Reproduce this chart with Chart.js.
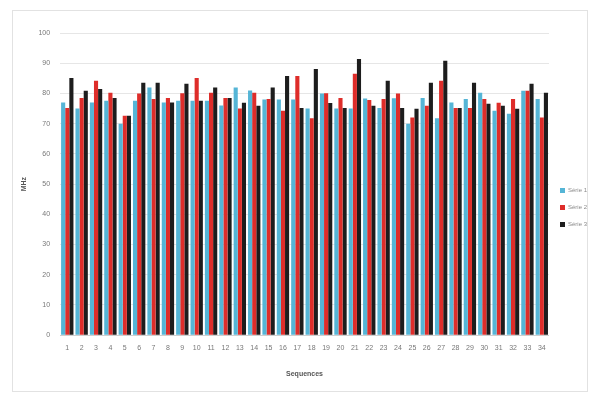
<!DOCTYPE html>
<html>
<head>
<meta charset="utf-8">
<style>
  html, body { margin: 0; padding: 0; background: #fff; }
  #wrap { width: 595px; height: 398px; }
</style>
<script src="https://cdn.jsdelivr.net/npm/chart.js@4"></script>
</head>
<body>
<div id="wrap"><canvas id="myChart" width="595" height="398"></canvas></div>
<script>
    var categories = ['1','2','3','4','5','6','7','8','9','10','11','12','13','14','15','16','17',
        '18','19','20','21','22','23','24','25','26','27','28','29','30','31','32','33','34'];
    var serie1 = [77, 75, 77, 77.6, 70, 77.6, 82, 77, 77.6, 77.6, 77.6, 76, 82, 81, 78, 78, 78,
        75, 80, 75, 75, 78.3, 75.2, 78.4, 70, 78.5, 71.8, 77, 78.2, 80.2, 74.3, 73.3, 80.9, 78.2];
    var serie2 = [75.2, 78.5, 84.2, 80.2, 72.6, 80, 78.2, 78.5, 80.1, 85.1, 80.2, 78.5, 75, 80.2, 78.2, 74.3, 85.8,
        71.8, 80.1, 78.5, 86.5, 77.8, 78.2, 80, 72, 75.9, 84.2, 75.2, 75.2, 78.2, 76.9, 78.2, 80.9, 72];
    var serie3 = [85.1, 80.9, 81.5, 78.5, 72.6, 83.5, 83.5, 77, 83.2, 77.6, 82, 78.5, 76.9, 75.9, 82, 85.8, 75.2,
        88.1, 76.8, 75.2, 91.4, 75.9, 84.2, 75.2, 74.9, 83.5, 90.8, 75.2, 83.5, 76.6, 75.9, 74.9, 83.2, 80.2];
    var seriesNames = ['Série 1', 'Série 2', 'Série 3'];
    var yTicks = [0, 10, 20, 30, 40, 50, 60, 70, 80, 90, 100];

    var ctx = document.getElementById('myChart').getContext('2d');

    const frame = {
        id: 'frame',
        beforeDraw(chart) {
            var c = chart.ctx;
            c.save();
            c.fillStyle = '#ffffff';
            c.fillRect(0, 0, chart.width, chart.height);
            c.strokeStyle = '#e2e2e2';
            c.lineWidth = 1;
            c.strokeRect(12.5, 10.5, 575, 381);
            c.restore();
        }
    };

    const barCommon = {
        borderWidth: 0,
        barPercentage: 1.0,
        categoryPercentage: 0.86
    };

    var barChart = new Chart(ctx, {
        type: 'bar',
        data: {
            labels: categories,
            datasets: [
                Object.assign({ label: seriesNames[0], data: serie1, backgroundColor: '#55b5d6' }, barCommon),
                Object.assign({ label: seriesNames[1], data: serie2, backgroundColor: '#de2d2a' }, barCommon),
                Object.assign({ label: seriesNames[2], data: serie3, backgroundColor: '#1d1d1d' }, barCommon),
            ]
        },
        options: {
            responsive: false,
            animation: false,
            layout: { padding: { left: 20, right: -2, top: 33, bottom: 16 } },
            plugins: {
                legend: {
                    position: 'right',
                    labels: {
                        boxWidth: 5,
                        boxHeight: 5,
                        padding: 11,
                        color: '#8a8a8a',
                        font: { family: 'Liberation Sans', size: 6 }
                    }
                },
                tooltip: { enabled: false }
            },
            scales: {
                x: {
                    grid: { display: false },
                    border: { color: '#cfcfcf' },
                    ticks: {
                        color: '#777',
                        font: { family: 'Liberation Sans', size: 7 },
                        maxRotation: 0,
                        autoSkip: false,
                        padding: 1
                    },
                    title: {
                        display: true,
                        text: 'Sequences',
                        color: '#555',
                        font: { family: 'Liberation Sans', size: 7, weight: 'bold' },
                        padding: { top: 16, bottom: 4 }
                    }
                },
                y: {
                    min: 0,
                    max: 100,
                    afterBuildTicks: function(axis) {
                        axis.ticks = yTicks.map(v => ({ value: v }));
                    },
                    grid: { color: '#e6e6e6', drawTicks: false },
                    border: { display: false },
                    ticks: {
                        color: '#777',
                        font: { family: 'Liberation Sans', size: 7 },
                        padding: 10
                    },
                    title: {
                        display: true,
                        text: 'MHz',
                        color: '#555',
                        font: { family: 'Liberation Sans', size: 7, weight: 'bold' },
                        padding: { top: 0, bottom: 0 }
                    }
                }
            }
        },
        plugins: [frame]
    });
</script>
</body>
</html>
